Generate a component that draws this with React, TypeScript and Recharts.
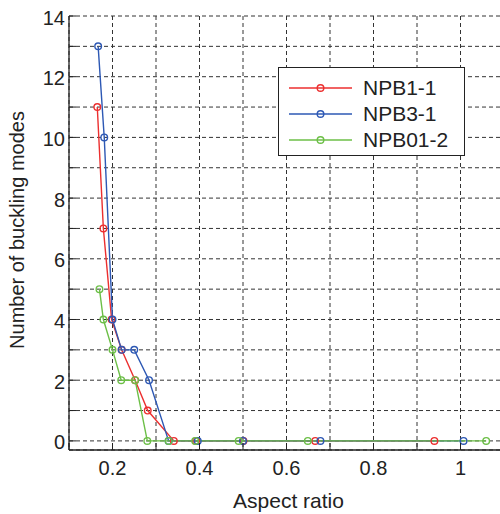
import React from 'react';
import { LineChart, Line, XAxis, YAxis, CartesianGrid, Legend, Label } from 'recharts';

// ---- data ----
const npb11X = [0.165, 0.179, 0.198, 0.221, 0.252, 0.281, 0.341, 0.392, 0.501, 0.666, 0.94];
const npb11Y = [11, 7, 4, 3, 2, 1, 0, 0, 0, 0, 0];
const npb31X = [0.167, 0.181, 0.2, 0.221, 0.25, 0.284, 0.329, 0.396, 0.5, 0.678, 1.007];
const npb31Y = [13, 10, 4, 3, 3, 2, 0, 0, 0, 0, 0];
const npb012X = [0.17, 0.179, 0.2, 0.22, 0.252, 0.28, 0.329, 0.39, 0.49, 0.649, 1.059];
const npb012Y = [5, 4, 3, 2, 2, 0, 0, 0, 0, 0, 0];

const seriesNames = ['NPB1-1', 'NPB3-1', 'NPB01-2'];
const seriesColors = ['#ec2f2f', '#2d58b4', '#6cbf47'];

const xTicks = [0.1, 0.2, 0.3, 0.4, 0.5, 0.6, 0.7, 0.8, 0.9, 1.0, 1.1];
const xTickLabels = ['', '0.2', '', '0.4', '', '0.6', '', '0.8', '', '1', ''];
const yTicks = [0, 1, 2, 3, 4, 5, 6, 7, 8, 9, 10, 11, 12, 13, 14];
const yTickLabels = ['0', '', '2', '', '4', '', '6', '', '8', '', '10', '', '12', '', '14'];

const xTitle = 'Aspect ratio';
const yTitle = 'Number of buckling modes';

const toRows = (xs: number[], ys: number[]) => xs.map((x, i) => ({ x, y: ys[i] }));
const seriesData = [toRows(npb11X, npb11Y), toRows(npb31X, npb31Y), toRows(npb012X, npb012Y)];

const FONT = '"Liberation Sans", Arial, Helvetica, sans-serif';
const INK = '#222';
const TICK_LEN = 7;

const labelFor = (ticks: number[], labels: string[], v: number) => {
  const i = ticks.findIndex((t) => Math.abs(t - v) < 1e-9);
  return i >= 0 ? labels[i] : '';
};

const XTick = (props: any) => {
  const { x, y, payload } = props;
  const txt = labelFor(xTicks, xTickLabels, payload.value);
  return (
    <g>
      <line x1={x} x2={x} y1={y} y2={y - TICK_LEN} stroke={INK} strokeWidth={1} />
      {txt && (
        <text x={x} y={y + 17.5} textAnchor="middle" dominantBaseline="central" fontSize={20} fill={INK} fontFamily={FONT}>
          {txt}
        </text>
      )}
    </g>
  );
};

const XTopTick = (props: any) => {
  const { x, y } = props;
  return <line x1={x} x2={x} y1={y} y2={y + TICK_LEN} stroke={INK} strokeWidth={1} />;
};

const YTick = (props: any) => {
  const { x, y, payload } = props;
  const txt = labelFor(yTicks, yTickLabels, payload.value);
  return (
    <g>
      <line x1={x} x2={x + TICK_LEN} y1={y} y2={y} stroke={INK} strokeWidth={1} />
      {txt && (
        <text x={x - 4} y={y + 1.5} textAnchor="end" dominantBaseline="central" fontSize={20} fill={INK} fontFamily={FONT}>
          {txt}
        </text>
      )}
    </g>
  );
};

const LegendBox = () => (
  <div
    style={{
      width: 187,
      height: 89,
      border: `1px solid ${INK}`,
      background: '#fff',
      boxSizing: 'border-box',
      position: 'relative',
      fontFamily: FONT,
    }}
  >
    {seriesNames.map((name, i) => (
      <div key={name} style={{ position: 'absolute', left: 0, top: 19.5 + i * 26.3 - 13, height: 26, width: 185 }}>
        <svg width={80} height={26} style={{ position: 'absolute', left: 0, top: 0 }}>
          <line x1={10} x2={73} y1={13} y2={13} stroke={seriesColors[i]} strokeWidth={1.5} />
          <circle cx={41.5} cy={13} r={3.3} fill="none" stroke={seriesColors[i]} strokeWidth={1.4} />
        </svg>
        <span
          style={{
            position: 'absolute',
            left: 84,
            top: 0,
            lineHeight: '26px',
            fontSize: 21,
            color: INK,
            whiteSpace: 'nowrap',
          }}
        >
          {name}
        </span>
      </div>
    ))}
  </div>
);

export default function App() {
  return (
    <div style={{ position: 'absolute', left: 0, top: 0, width: 500, height: 514, overflow: 'hidden', background: '#fff' }}>
      <LineChart width={504} height={514} margin={{ top: 16, right: 0, bottom: 0, left: 0 }}>
        <CartesianGrid stroke="#333" strokeDasharray="4 3" strokeWidth={1} />
        <XAxis
          xAxisId={0}
          type="number"
          dataKey="x"
          domain={[0.1, 1.1]}
          ticks={xTicks}
          interval={0}
          allowDataOverflow
          height={64}
          tickSize={0}
          tickMargin={0}
          tickLine={false}
          axisLine={{ stroke: INK, strokeWidth: 1.3 }}
          tick={<XTick />}
        >
          <Label
            content={(p: any) => {
              const vb = p.viewBox || {};
              return (
                <text
                  x={vb.x + vb.width / 2 + 2}
                  y={vb.y + 50}
                  textAnchor="middle"
                  dominantBaseline="central"
                  fontSize={21}
                  fill={INK}
                  fontFamily={FONT}
                >
                  {xTitle}
                </text>
              );
            }}
          />
        </XAxis>
        <XAxis
          xAxisId="top"
          orientation="top"
          type="number"
          dataKey="x"
          domain={[0.1, 1.1]}
          ticks={xTicks}
          interval={0}
          allowDataOverflow
          height={0}
          tickSize={0}
          tickMargin={0}
          tickLine={false}
          axisLine={{ stroke: INK, strokeWidth: 1.3 }}
          tick={<XTopTick />}
        />
        <YAxis
          type="number"
          domain={[-0.3, 14]}
          ticks={yTicks}
          interval={0}
          allowDataOverflow
          width={69}
          tickSize={0}
          tickMargin={0}
          tickLine={false}
          axisLine={{ stroke: INK, strokeWidth: 1.3 }}
          tick={<YTick />}
        >
          <Label
            content={(p: any) => {
              const vb = p.viewBox || {};
              const cx = vb.x + 17;
              const cy = vb.y + vb.height / 2 - 3;
              return (
                <text
                  x={cx}
                  y={cy}
                  transform={`rotate(-90, ${cx}, ${cy})`}
                  textAnchor="middle"
                  dominantBaseline="central"
                  fontSize={20}
                  fill={INK}
                  fontFamily={FONT}
                >
                  {yTitle}
                </text>
              );
            }}
          />
        </YAxis>
        {seriesData.map((d, i) => (
          <Line
            key={seriesNames[i]}
            name={seriesNames[i]}
            data={d}
            dataKey="y"
            type="linear"
            stroke={seriesColors[i]}
            strokeWidth={1.4}
            dot={{ r: 3.3, fill: 'none', stroke: seriesColors[i], strokeWidth: 1.4 }}
            activeDot={false}
            isAnimationActive={false}
          />
        ))}
        <Legend
          layout="horizontal"
          verticalAlign="middle"
          align="center"
          content={() => <LegendBox />}
          wrapperStyle={{ left: 278, top: 67, width: 187, height: 89 }}
        />
      </LineChart>
    </div>
  );
}
